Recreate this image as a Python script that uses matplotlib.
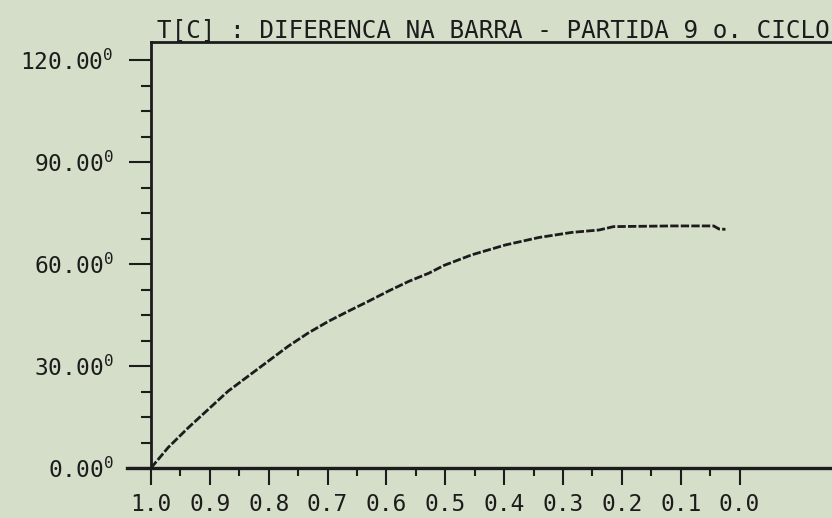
import matplotlib
matplotlib.use('Agg')
import matplotlib.pyplot as plt
from matplotlib.ticker import FixedLocator

# curve (fraction on x, degrees on y)
frac = [1.0, 0.971, 0.937, 0.903, 0.869, 0.835, 0.801, 0.767, 0.733, 0.699,
        0.665, 0.631, 0.596, 0.562, 0.528, 0.502, 0.455, 0.398, 0.341, 0.285,
        0.239, 0.214, 0.115, 0.044, 0.035, 0.024]
temp = [0.0, 6.0, 11.8, 17.2, 22.6, 27.0, 31.4, 35.8, 39.7, 43.1,
        46.1, 49.0, 52.1, 54.9, 57.3, 59.6, 62.7, 65.6, 67.8, 69.3,
        70.0, 71.0, 71.2, 71.2, 70.3, 70.2]

y_ticks = [0, 30, 60, 90, 120]
y_minor = [7.5, 15, 22.5, 37.5, 45, 52.5, 67.5, 75, 82.5, 97.5, 105, 112.5]
x_ticks = [1.0, 0.9, 0.8, 0.7, 0.6, 0.5, 0.4, 0.3, 0.2, 0.1, 0.0]
x_minor = [0.95, 0.85, 0.75, 0.65, 0.55, 0.45, 0.35, 0.25, 0.15, 0.05]
title = "T[C] : DIFERENCA NA BARRA - PARTIDA 9 o. CICLO"

paper = '#d4dec8'
ink = '#1c1c1c'

plt.rcParams['font.family'] = ['DejaVu Sans Mono']
plt.rcParams['mathtext.fontset'] = 'dejavusans'

fig = plt.figure(figsize=(8.32, 5.18), dpi=100, facecolor=paper)
ax = fig.add_axes([151 / 832, 1 - 468 / 518, 1 - 151 / 832, (468 - 42) / 518])
ax.set_facecolor(paper)

ax.plot(frac, temp, color=ink, lw=2.0, linestyle=(0, (3, 0.8)))

ax.set_xlim(1.0, -0.157)
ax.set_ylim(0, 125.3)

# frame: left + top, bottom axis line runs a bit past the y axis
ax.spines['right'].set_visible(False)
ax.spines['bottom'].set_visible(False)
for s in ['left', 'top']:
    ax.spines[s].set_color(ink)
    ax.spines[s].set_linewidth(2.0)
ax.plot([-0.035, 1], [0, 0], transform=ax.get_yaxis_transform(),
        clip_on=False, color=ink, lw=2.4)

ax.xaxis.set_major_locator(FixedLocator(x_ticks))
ax.xaxis.set_minor_locator(FixedLocator(x_minor))
ax.set_xticklabels(['%.1f' % v for v in x_ticks], fontsize=16.5, color=ink)

ax.yaxis.set_major_locator(FixedLocator(y_ticks))
ax.yaxis.set_minor_locator(FixedLocator(y_minor))
ax.set_yticklabels(['%.2f$^{\\mathtt{0}}$' % v for v in y_ticks], fontsize=16.5, color=ink)

ax.tick_params(axis='x', which='major', direction='out', length=12, width=1.5,
               color=ink, pad=6)
ax.tick_params(axis='x', which='minor', direction='out', length=6, width=1.5, color=ink)
ax.tick_params(axis='y', which='major', direction='out', length=16, width=1.5,
               color=ink, pad=11)
ax.tick_params(axis='y', which='minor', direction='out', length=7, width=1.5, color=ink)

fig.text(157 / 832, 1 - 37 / 518, title, fontsize=17.5, color=ink, va='baseline')

fig.savefig('out.png', dpi=100, facecolor=paper)
